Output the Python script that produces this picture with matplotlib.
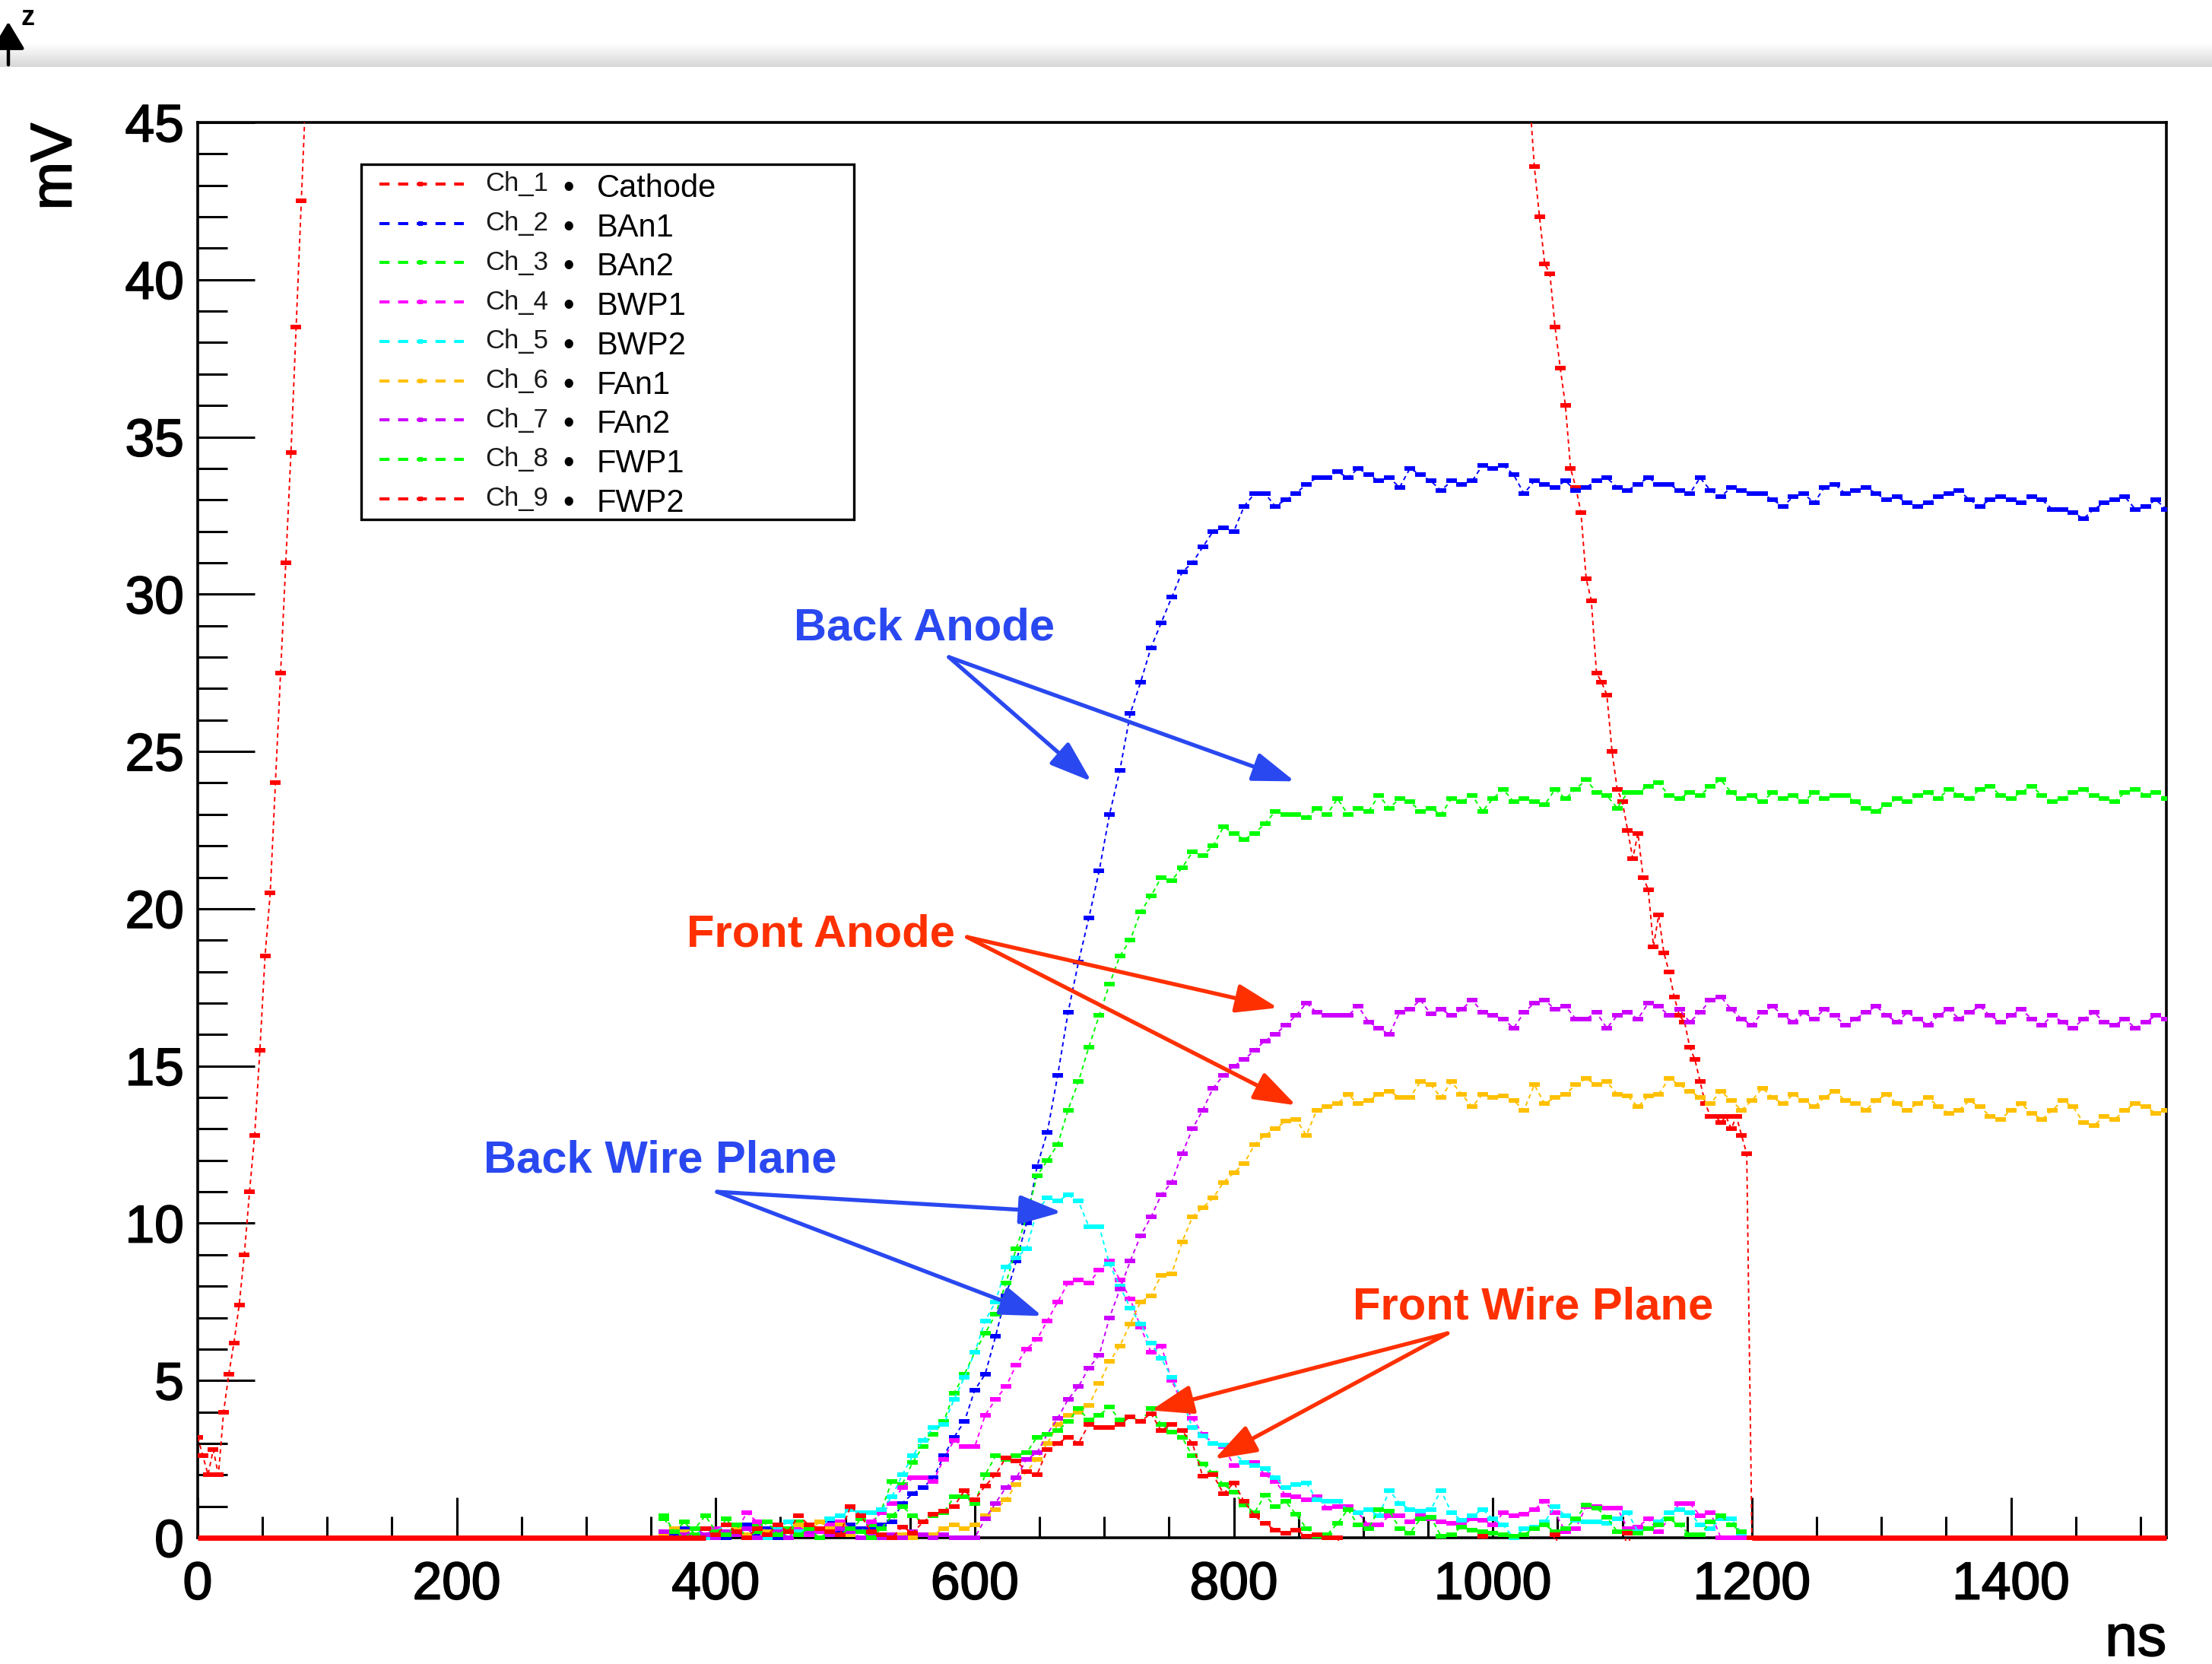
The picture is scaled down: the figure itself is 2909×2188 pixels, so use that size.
import numpy as np
import matplotlib
matplotlib.use("Agg")
import matplotlib.pyplot as plt
import matplotlib.patheffects as pe
from matplotlib.ticker import MultipleLocator
from matplotlib.transforms import Bbox, TransformedBbox
from matplotlib.lines import Line2D
from matplotlib.patches import Rectangle, FancyArrowPatch

plt.rcParams['font.family'] = ['Liberation Sans', 'DejaVu Sans']

W, H = 2909, 2188  # output size in pixels
DPI = 100

# ---------------- data ----------------
channel_ids = ["Ch_1", "Ch_2", "Ch_3", "Ch_4", "Ch_5", "Ch_6", "Ch_7", "Ch_8", "Ch_9"]
channel_names = ["Cathode", "BAn1", "BAn2", "BWP1", "BWP2", "FAn1", "FAn2", "FWP1", "FWP2"]
channel_colors = ["#ff0000", "#0000ff", "#00ff00", "#ff00ff", "#00ffff",
                  "#ffc000", "#cc00ff", "#00ff00", "#ff0000"]

STEP = 8     # ns between samples
T0 = 360     # ns, first sample of channels 2-8

# cathode: two visible pieces, the rest is above 45 mV
cathode_step = 4
cathode_rise_t0 = 0
cathode_rise = [3.2, 2.6, 2.0, 2.8, 2.0, 4.0, 5.2, 6.2, 7.4, 9.0, 11.0,
                12.8, 15.5, 18.5, 20.5, 24.0, 27.5, 31.0, 34.5, 38.5, 42.5, 46.5]
cathode_fall_t0 = 1028
cathode_fall = [46.0, 43.6, 42.0, 40.5, 40.2, 38.5, 37.2, 36.0, 34.0, 33.4, 32.6,
                30.5, 29.8, 27.5, 27.2, 26.8, 25.0, 23.8, 23.4, 22.5, 21.6, 22.4,
                21.0, 20.6, 18.8, 19.8, 18.6, 18.0, 17.2, 16.6, 16.4, 15.6, 15.2,
                14.5, 13.8, 13.4, 13.4, 13.2, 13.4, 13.0, 13.4, 12.8, 12.2, 0.0]
cathode_zero_span = (1200, 1520)

ban1 = [0.2, 0.1, 0.3, 0.0, 0.3, 0.1, 0.0, 0.2, 0.4, 0.1,          # 360
        0.3, 0.0, 0.2, 0.1, 0.3, 0.2, 0.5, 0.2, 0.4, 0.3,          # 440
        0.3, 0.4, 0.5, 1.1, 1.4, 1.6, 1.9, 2.6, 3.2, 3.7,          # 520
        4.7, 5.2, 6.4, 7.7, 8.8, 10.0, 11.8, 12.9, 14.7, 16.7,     # 600
        18.3, 19.7, 21.2, 23.0, 24.4, 26.2, 27.2, 28.3, 29.1, 29.9,  # 680
        30.7, 31.0, 31.5, 32.0, 32.1, 32.0, 32.8, 33.2, 33.2, 32.8,  # 760
        33.0, 33.2, 33.5, 33.7, 33.7, 33.9, 33.7, 34.0, 33.8, 33.6,  # 840
        33.7, 33.4, 34.0, 33.8, 33.6, 33.3, 33.6, 33.5, 33.6, 34.1,  # 920
        34.0, 34.1, 33.8, 33.2, 33.6, 33.5, 33.4, 33.6, 33.3, 33.4,  # 1000
        33.6, 33.7, 33.4, 33.3, 33.5, 33.7, 33.5, 33.5, 33.3, 33.2,  # 1080
        33.7, 33.3, 33.1, 33.4, 33.3, 33.2, 33.2, 33.0, 32.8, 33.1,  # 1160
        33.2, 32.9, 33.4, 33.5, 33.2, 33.3, 33.4, 33.2, 33.0, 33.1,  # 1240
        32.9, 32.8, 32.9, 33.1, 33.2, 33.3, 33.0, 32.8, 33.0, 33.1,  # 1320
        33.0, 32.9, 33.1, 33.0, 32.7, 32.7, 32.6, 32.4, 32.7, 32.9,  # 1400
        33.0, 33.1, 32.7, 32.8, 33.0, 32.7]                          # 1480

ban2 = [0.6, 0.2, 0.5, 0.1, 0.3, 0.0, 0.6, 0.2, 0.1, 0.4,
        0.2, 0.3, 0.0, 0.5, 0.2, 0.3, 0.1, 0.4, 0.2, 0.6,
        0.4, 0.9, 1.8, 1.7, 2.4, 2.9, 3.3, 3.7, 4.6, 5.2,
        5.9, 6.5, 7.1, 8.1, 9.2, 10.2, 11.5, 12.0, 12.5, 13.6,
        14.5, 15.6, 16.6, 17.6, 18.5, 19.0, 19.9, 20.4, 21.0, 20.9,
        21.3, 21.8, 21.7, 22.0, 22.6, 22.4, 22.2, 22.4, 22.7, 23.1,
        23.0, 23.0, 22.9, 23.2, 23.0, 23.5, 23.0, 23.2, 23.1, 23.6,
        23.2, 23.5, 23.4, 23.1, 23.2, 23.0, 23.5, 23.4, 23.6, 23.1,
        23.5, 23.8, 23.4, 23.5, 23.4, 23.3, 23.8, 23.5, 23.8, 24.1,
        23.7, 23.6, 23.2, 23.7, 23.7, 23.9, 24.0, 23.6, 23.5, 23.7,
        23.6, 23.9, 24.1, 23.7, 23.5, 23.6, 23.4, 23.7, 23.5, 23.6,
        23.4, 23.7, 23.5, 23.6, 23.6, 23.4, 23.2, 23.1, 23.3, 23.5,
        23.4, 23.6, 23.7, 23.5, 23.8, 23.6, 23.5, 23.8, 23.9, 23.6,
        23.5, 23.7, 23.9, 23.6, 23.4, 23.5, 23.7, 23.8, 23.6, 23.5,
        23.4, 23.7, 23.8, 23.6, 23.7, 23.5]

bwp1 = [0.0, 0.3, 0.2, 0.0, 0.1, 0.3, 0.1, 0.2, 0.8, 0.5,
        0.1, 0.2, 0.0, 0.3, 0.1, 0.2, 0.4, 0.5, 0.3, 0.2,
        0.5, 0.8, 1.1, 1.6, 1.9, 1.9, 1.8, 2.5, 3.1, 2.9,
        2.9, 3.9, 4.4, 4.8, 5.5, 6.0, 6.3, 6.9, 7.5, 8.1,
        8.2, 8.1, 8.5, 8.8, 8.2, 7.6, 6.7, 5.9, 6.1, 5.0,
        4.3, 3.8, 3.3, 3.0, 2.9, 2.3, 2.4, 2.4, 2.0, 1.8,
        1.35, 1.3, 1.2, 1.3, 0.95, 1.0, 1.0, 0.8, 0.4, 0.4,
        0.7, 0.7, 0.5, 0.7, 0.6, 0.5, 0.45, 0.4, 0.6, 0.55,
        0.4, 0.8, 0.7, 0.75, 0.9, 1.15, 0.8, 0.2, 0.3, 1.0,
        1.0, 0.95, 0.95, 0.3, 0.35, 0.6, 0.2, 0.6, 1.1, 1.1,
        0.7, 0.8, 0.0, 0.0, 0.0]

bwp2 = [0.0, 0.2, 0.1, 0.3, 0.0, 0.2, 0.4, 0.1, 0.3, 0.2,
        0.0, 0.3, 0.5, 0.2, 0.4, 0.3, 0.6, 0.7, 0.9, 0.8,
        0.8, 0.9, 1.3, 2.0, 2.6, 3.1, 3.5, 3.6, 4.4, 5.1,
        5.9, 6.9, 7.5, 8.6, 8.9, 9.2, 10.4, 10.8, 10.7, 10.9,
        10.7, 9.9, 9.9, 8.7, 8.0, 7.3, 6.8, 6.2, 5.7, 5.1,
        4.4, 3.5, 3.25, 3.0, 2.95, 2.7, 2.4, 2.3, 2.2, 1.9,
        1.6, 1.7, 1.75, 1.2, 1.15, 1.15, 0.9, 0.8, 0.9, 0.7,
        1.5, 1.1, 0.9, 0.85, 0.9, 1.5, 0.8, 0.55, 0.7, 0.9,
        0.6, 0.4, 0.0, 0.3, 0.35, 0.5, 1.0, 0.7, 0.55, 0.5,
        0.5, 0.45, 0.6, 0.8, 0.2, 0.3, 0.5, 0.8, 0.9, 0.8,
        0.4, 0.3, 0.6, 0.6, 0.15]

fan1 = [0.1, 0.3, 0.2, 0.0, 0.1, 0.0, 0.2, 0.3, 0.1, 0.0,
        0.2, 0.1, 0.3, 0.4, 0.2, 0.5, 0.3, 0.4, 0.1, 0.2,
        0.0, 0.1, 0.0, 0.1, 0.0, 0.1, 0.1, 0.3, 0.4, 0.3,
        0.4, 0.7, 0.9, 1.2, 1.7, 2.1, 2.5, 3.0, 3.6, 3.9,
        4.0, 4.2, 4.9, 5.6, 6.1, 6.8, 7.5, 7.7, 8.35, 8.4,
        9.4, 10.2, 10.5, 10.8, 11.3, 11.6, 11.9, 12.5, 12.8, 13.0,
        13.25, 13.3, 12.8, 13.6, 13.7, 13.8, 14.1, 13.8, 13.9, 14.1,
        14.2, 14.0, 14.0, 14.5, 14.4, 14.0, 14.5, 14.1, 13.7, 14.1,
        14.0, 14.05, 13.9, 13.6, 14.4, 13.8, 14.0, 14.1, 14.4, 14.6,
        14.4, 14.5, 14.1, 14.05, 13.7, 14.05, 14.1, 14.6, 14.4, 14.2,
        14.0, 13.8, 14.2, 13.9, 13.6, 13.9, 14.3, 14.0, 13.8, 14.1,
        13.9, 13.7, 14.0, 14.2, 13.9, 13.8, 13.6, 13.9, 14.1, 13.8,
        13.6, 13.8, 14.0, 13.7, 13.5, 13.6, 13.9, 13.7, 13.4, 13.3,
        13.6, 13.8, 13.5, 13.3, 13.6, 13.9, 13.7, 13.2, 13.1, 13.4,
        13.3, 13.6, 13.8, 13.7, 13.5, 13.6]

fan2 = [0.2, 0.0, 0.1, 0.3, 0.1, 0.0, 0.2, 0.1, 0.3, 0.0,
        0.1, 0.2, 0.0, 0.1, 0.2, 0.0, 0.1, 0.3, 0.2, 0.0,
        0.1, 0.0, 0.1, 0.0, 0.2, 0.1, 0.0, 0.1, 0.0, 0.0,
        0.0, 0.6, 1.1, 1.6, 1.9, 2.5, 2.7, 3.3, 3.8, 4.4,
        4.8, 5.4, 5.8, 7.0, 7.9, 8.8, 9.6, 10.2, 10.9, 11.3,
        12.2, 13.0, 13.6, 14.3, 14.7, 15.0, 15.2, 15.5, 15.8, 16.0,
        16.3, 16.6, 17.0, 16.7, 16.6, 16.6, 16.6, 16.9, 16.4, 16.2,
        16.0, 16.7, 16.8, 17.1, 16.65, 16.8, 16.6, 16.8, 17.1, 16.7,
        16.6, 16.5, 16.2, 16.7, 17.0, 17.1, 16.8, 16.9, 16.5, 16.5,
        16.7, 16.2, 16.6, 16.7, 16.5, 17.0, 16.9, 16.6, 16.8, 16.4,
        16.7, 17.1, 17.2, 16.8, 16.5, 16.3, 16.7, 16.9, 16.6, 16.4,
        16.7, 16.5, 16.8, 16.6, 16.3, 16.5, 16.7, 16.9, 16.6, 16.4,
        16.7, 16.5, 16.3, 16.6, 16.8, 16.5, 16.7, 16.9, 16.6, 16.4,
        16.6, 16.8, 16.5, 16.3, 16.6, 16.4, 16.2, 16.5, 16.7, 16.4,
        16.3, 16.5, 16.2, 16.4, 16.6, 16.5]

fwp1 = [0.7, 0.2, 0.0, 0.3, 0.7, 0.2, 0.1, 0.4, 0.0, 0.2,
        0.5, 0.1, 0.3, 0.1, 0.3, 0.0, 0.2, 0.1, 0.3, 0.2,
        0.0, 0.3, 0.7, 1.0, 0.7, 0.5, 0.7, 0.8, 1.3, 1.3,
        1.1, 2.0, 2.6, 2.5, 2.6, 2.7, 3.2, 3.3, 3.4, 3.7,
        4.1, 3.75, 3.9, 4.15, 3.75, 3.85, 3.7, 4.1, 3.6, 3.35,
        3.2, 2.6, 2.35, 2.05, 1.7, 1.45, 1.05, 0.8, 1.35, 1.0,
        1.15, 0.75, 0.3, 0.05, 0.1, 0.45, 0.9, 0.4, 0.3, 0.9,
        0.85, 0.3, 0.15, 0.6, 0.65, 0.05, 0.1, 0.35, 0.25, 0.2,
        0.15, 0.1, 0.05, 0.1, 0.3, 0.4, 0.2, 0.3, 0.6, 1.05,
        0.95, 0.65, 0.2, 0.2, 0.15, 0.3, 0.4, 0.6, 0.4, 0.1,
        0.1, 0.5, 0.7, 0.4, 0.2]

# FWP2 is flat zero before 392 ns; -1.0 marks samples below the frame
fwp2_t0 = 392
fwp2 = [0.3, 0.1, 0.4, 0.2, 0.0, 0.3, 0.1, 0.4, 0.2, 0.7,
        0.4, 0.3, 0.2, 0.1, 1.0, 0.7, 0.2, 0.1, 0.0, 0.35,
        0.15, 0.5, 0.75, 0.85, 1.0, 1.5, 1.2, 1.65, 2.0, 2.55,
        2.45, 2.1, 2.0, 2.8, 3.0, 3.2, 3.0, 3.6, 3.5, 3.5,
        3.6, 3.85, 3.7, 3.95, 3.4, 3.6, 3.4, 3.0, 1.95, 2.0,
        1.4, 1.75, 1.15, 0.7, 0.45, 0.25, 0.15, 0.25, 0.05, 0.1,
        0.0, 0.0, -1.0, -1.0, -1.0, -1.0, -1.0, -1.0, -1.0, -1.0,
        -1.0, -1.0, -1.0, -1.0, -1.0, 0.05, -1.0, -1.0, -1.0, -1.0,
        -1.0, -1.0, 0.1, -1.0, -1.0, -1.0, -1.0, -1.0, -1.0, 0.15,
        -1.0, -1.0, -1.0, -1.0, -1.0, -1.0, -1.0, -1.0, -1.0, -1.0,
        -1.0, 0.0]
fwp2_zero_span = (0, 392)

channel_data = [None, ban1, ban2, bwp1, bwp2, fan1, fan2, fwp1, fwp2]

BLUE_TXT = "#2a48f0"
RED_TXT = "#ff3000"
# label, colour, text position (centre x, baseline), arrow tail, arrow heads
notes = [
    ("Back Anode", BLUE_TXT, (560.8, 28.55), (580, 28.0), [(690, 24.05), (847, 24.05)]),
    ("Front Anode", RED_TXT, (481.0, 18.8), (594, 19.1), [(834, 16.85), (848, 13.75)]),
    ("Back Wire Plane", BLUE_TXT, (357.0, 11.63), (401, 11.0), [(667, 10.35), (652, 7.05)]),
    ("Front Wire Plane", RED_TXT, (1030.8, 6.96), (965, 6.5), [(736, 4.05), (785, 2.5)]),
]

# ---------------- figure ----------------
def fx(px):
    return px / W

def fy(py):
    return 1 - py / H

# screenshot text is a little heavier than plain Liberation Sans
heavy = [pe.withStroke(linewidth=1.3, foreground="black")]

fig = plt.figure(figsize=(W / DPI, H / DPI), dpi=DPI, facecolor="white")

# window title bar shadow of the screenshot
bar = fig.add_axes([0, fy(88), 1, 31 / H])
bar.imshow(np.linspace(1.0, 0.84, 40).reshape(-1, 1), cmap="gray", vmin=0, vmax=1,
           aspect="auto")
bar.axis("off")
fig.add_artist(FancyArrowPatch((fx(11), fy(88)), (fx(11), fy(26)), transform=fig.transFigure,
                               arrowstyle="-|>,head_length=1.0,head_width=0.6",
                               mutation_scale=22, lw=3.2, color="black"))
fig.text(fx(28), fy(33), "z", fontsize=26, fontweight="bold", ha="left", va="baseline")

ax = fig.add_axes([fx(260), fy(2022), (2849 - 260) / W, (2022 - 161) / H])
ax.set_xlim(0, 1520)
ax.set_ylim(0, 45)
for s in ax.spines.values():
    s.set_linewidth(2.6)

ax.xaxis.set_major_locator(MultipleLocator(200))
ax.xaxis.set_minor_locator(MultipleLocator(50))
ax.yaxis.set_major_locator(MultipleLocator(5))
ax.yaxis.set_minor_locator(MultipleLocator(1))
ax.tick_params(axis="y", which="major", direction="in", length=54, width=2.2,
               labelsize=50, pad=13)
ax.tick_params(axis="y", which="minor", direction="in", length=28, width=2.2)
ax.tick_params(axis="x", which="major", direction="in", length=38, width=2.2,
               labelsize=50, pad=22)
ax.tick_params(axis="x", which="minor", direction="in", length=20, width=2.2)
for lab in ax.get_xticklabels() + ax.get_yticklabels():
    lab.set_path_effects(heavy)

clip = TransformedBbox(Bbox([[0, -0.002], [1, 1]]), ax.transAxes)
RECT = [(-1.1, -0.5), (1.1, -0.5), (1.1, 0.5), (-1.1, 0.5), (-1.1, -0.5)]


def trace(t0, step, vals, color):
    t = t0 + step * np.arange(len(vals))
    ln, = ax.plot(t, vals, color=color, lw=1.4, ls=(0, (3, 2.4)),
                  marker=RECT, ms=10.3, mew=0, zorder=3)
    ln.set_clip_box(clip)


trace(cathode_rise_t0, cathode_step, cathode_rise, channel_colors[0])
trace(cathode_fall_t0, cathode_step, cathode_fall, channel_colors[0])
for i in range(1, 9):
    t0 = fwp2_t0 if i == 8 else T0
    trace(t0, STEP, channel_data[i], channel_colors[i])

# flat zero parts sit on the frame line
for span in (fwp2_zero_span, cathode_zero_span):
    ax.plot(span, [0, 0], color="#ff0000", lw=5.0, solid_capstyle="butt",
            clip_on=False, zorder=4)

# annotations
for label, col, (tx, ty), tail, heads in notes:
    ax.text(tx, ty, label, color=col, fontsize=43, fontweight="bold",
            ha="center", va="baseline", zorder=5)
    for head in heads:
        ax.annotate("", xy=head, xytext=tail, zorder=5,
                    arrowprops=dict(arrowstyle="-|>,head_length=1.3,head_width=0.45",
                                    mutation_scale=26, lw=3.8, color=col,
                                    shrinkA=0, shrinkB=0))

# axis titles, ROOT style
fig.text(fx(74), fy(162), "mV", rotation=90, fontsize=55, ha="center", va="top",
         path_effects=heavy)
fig.text(fx(2849), fy(2177), "ns", fontsize=55, ha="right", va="baseline",
         path_effects=heavy)

# legend box
fig.add_artist(Rectangle((fx(475), fy(683)), (1123 - 475) / W, (683 - 216) / H,
                         transform=fig.transFigure, facecolor="white",
                         edgecolor="black", lw=2.4, zorder=6))
for i in range(9):
    yrow = 242 + 51.7 * i
    fig.add_artist(Line2D([fx(499), fx(610)], [fy(yrow), fy(yrow)], transform=fig.transFigure,
                          color=channel_colors[i], lw=2.9, ls=(0, (3.3, 2.8)), zorder=7))
    fig.add_artist(Line2D([fx(553)], [fy(yrow)], transform=fig.transFigure,
                          color=channel_colors[i], marker="s", ms=5, mew=0, zorder=7))
    fig.text(fx(638), fy(yrow), channel_ids[i], fontsize=25, color="#1a1a1a",
             ha="left", va="center", zorder=7)
    fig.text(fx(748), fy(yrow + 6), "\u2022", fontsize=30, ha="center", va="center", zorder=7)
    fig.text(fx(785), fy(yrow + 6), channel_names[i], fontsize=30, ha="left",
             va="center", zorder=7)

fig.savefig("out.png", dpi=DPI, facecolor="white")
print("saved out.png")
